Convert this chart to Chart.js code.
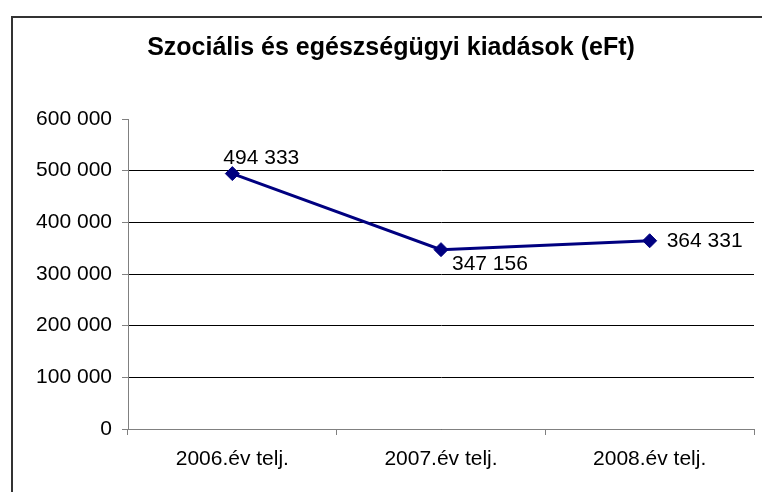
<!DOCTYPE html>
<html>
<head>
<meta charset="utf-8">
<script src="https://cdn.jsdelivr.net/npm/chart.js@4.4.0/dist/chart.umd.min.js"></script>
<style>
  body { margin: 0; background: #fff; }
  #frame { position: absolute; left: 11px; top: 16px; width: 800px; height: 500px;
           border-left: 2px solid #333; border-top: 2px solid #333; }
  #wrap { position: absolute; left: 0; top: 0; width: 762px; height: 492px; }
</style>
</head>
<body>
<div id="frame"></div>
<div id="wrap"><canvas id="chart"></canvas></div>
<script>
var categories = ["2006.év telj.", "2007.év telj.", "2008.év telj."];
var values = [494333, 347156, 364331];
var chartTitle = "Szociális és egészségügyi kiadások (eFt)";

// label offsets from each point (left edge of text, middle of text)
var labelDx = [-9, 11, 17];
var labelDy = [-15, 15, 0];

function formatNum(v) {
    return v.toString().replace(/\B(?=(\d{3})+(?!\d))/g, " ");
}

var fontName = "'Liberation Sans', Arial, sans-serif";

var titlePlugin = {
    id: 'ownTitle',
    afterDraw: function (chart) {
        var ctx = chart.ctx;
        ctx.save();
        ctx.font = "bold 25px " + fontName;
        ctx.fillStyle = "#000";
        ctx.textAlign = "center";
        ctx.textBaseline = "alphabetic";
        ctx.fillText(chartTitle, 391, 55);
        ctx.restore();
    }
};

var labelPlugin = {
    id: 'pointLabels',
    afterDatasetsDraw: function (chart) {
        var ctx = chart.ctx;
        var meta = chart.getDatasetMeta(0);
        ctx.save();
        ctx.font = "21px " + fontName;
        ctx.fillStyle = "#000";
        ctx.textAlign = "left";
        ctx.textBaseline = "middle";
        meta.data.forEach(function (pt, i) {
            ctx.fillText(formatNum(values[i]), pt.x + labelDx[i], pt.y + labelDy[i]);
        });
        ctx.restore();
    }
};

var chart = new Chart(document.getElementById('chart'), {
    type: 'line',
    data: {
        labels: categories,
        datasets: [{
            data: values,
            borderColor: '#000080',
            backgroundColor: '#000080',
            borderWidth: 3,
            pointStyle: 'rectRot',
            pointRadius: 7,
            pointBorderWidth: 1,
            pointBorderColor: '#000080',
            pointBackgroundColor: '#000080',
            tension: 0
        }]
    },
    options: {
        responsive: true,
        maintainAspectRatio: false,
        animation: false,
        layout: { padding: { top: 119, right: 8, bottom: 0, left: 0 } },
        plugins: {
            legend: { display: false },
            title: { display: false },
            tooltip: { enabled: false }
        },
        scales: {
            x: {
                offset: true,
                grid: {
                    offset: true,
                    drawOnChartArea: false,
                    tickLength: 6,
                    tickColor: '#808080'
                },
                border: { color: '#808080', width: 1 },
                ticks: {
                    color: '#000',
                    padding: 12,
                    maxRotation: 0,
                    font: { family: fontName, size: 21 }
                },
                afterFit: function (scale) { scale.height = 63; }
            },
            y: {
                min: 0,
                max: 600000,
                grid: {
                    color: function (c) {
                        return c.tick && c.tick.value === 600000 ? 'rgba(0,0,0,0)' : '#000';
                    },
                    tickLength: 6,
                    tickColor: '#808080'
                },
                border: { color: '#808080', width: 1 },
                ticks: {
                    stepSize: 100000,
                    color: '#000',
                    padding: 10,
                    font: { family: fontName, size: 21 },
                    callback: function (v) { return formatNum(v); }
                },
                afterFit: function (scale) { scale.width = 128; }
            }
        }
    },
    plugins: [titlePlugin, labelPlugin]
});
</script>
</body>
</html>
